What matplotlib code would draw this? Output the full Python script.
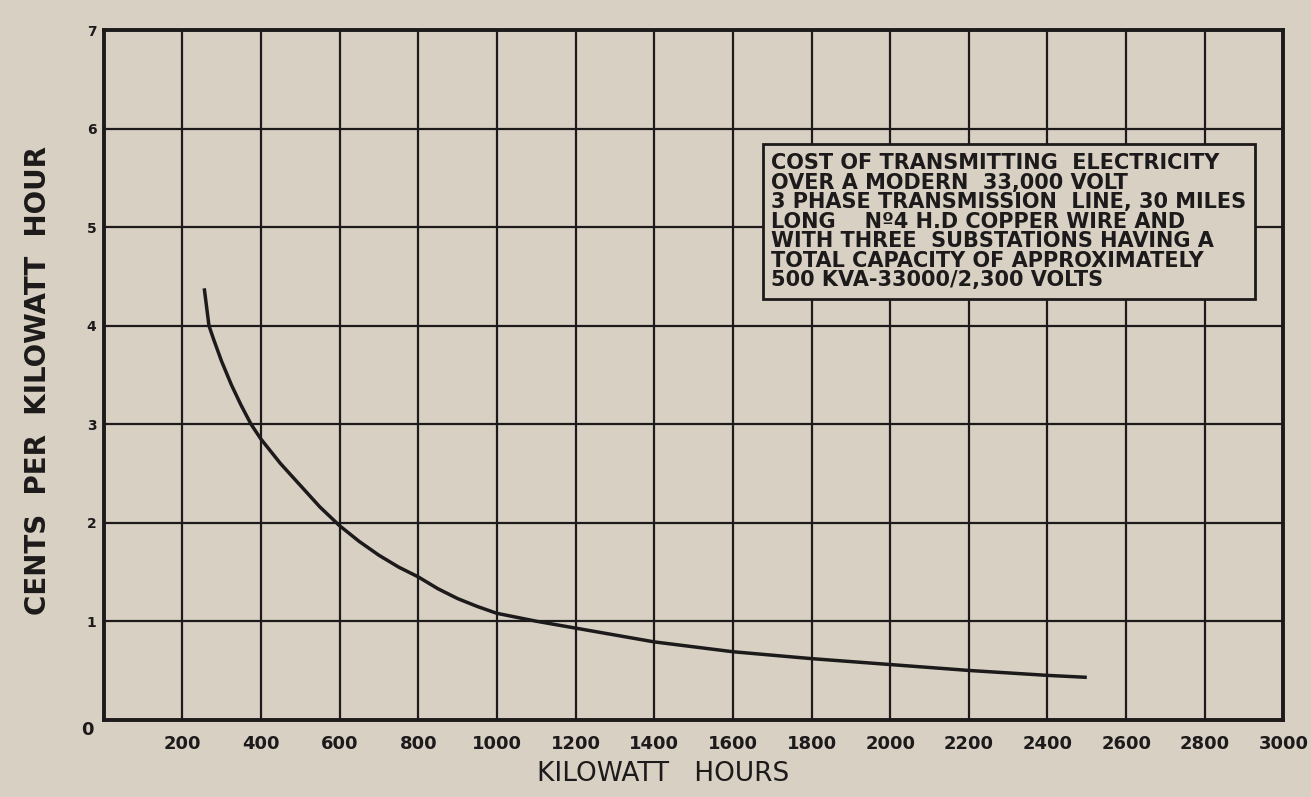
import numpy as np
import matplotlib.pyplot as plt

# values
kwh = [256, 268, 280, 300, 325, 350, 375, 400, 450, 500, 550, 600, 650, 700,
       750, 800, 850, 900, 950, 1000, 1050, 1100, 1200, 1300, 1400, 1500,
       1600, 1800, 2000, 2200, 2400, 2500]
cents = [4.38, 4.0, 3.86, 3.64, 3.40, 3.19, 3.0, 2.85, 2.60, 2.38, 2.16, 1.97,
         1.81, 1.67, 1.55, 1.45, 1.33, 1.23, 1.15, 1.08, 1.04, 1.0, 0.93,
         0.86, 0.79, 0.74, 0.69, 0.62, 0.56, 0.50, 0.45, 0.43]

x_ticks = list(range(200, 3001, 200))
y_ticks = [1, 2, 3, 4, 5, 6, 7]

note = ("COST OF TRANSMITTING  ELECTRICITY\n"
        "OVER A MODERN  33,000 VOLT\n"
        "3 PHASE TRANSMISSION  LINE, 30 MILES\n"
        "LONG    N\u00ba4 H.D COPPER WIRE AND\n"
        "WITH THREE  SUBSTATIONS HAVING A\n"
        "TOTAL CAPACITY OF APPROXIMATELY\n"
        "500 KVA-33000/2,300 VOLTS")

bg = '#d9d0c4'
ink = '#1c1a1a'

fig = plt.figure(figsize=(13.11, 7.97), dpi=100, facecolor=bg)
ax = fig.add_axes([0.079, 0.097, 0.900, 0.865])
ax.set_facecolor(bg)

ax.plot(kwh, cents, color=ink, lw=2.5, solid_capstyle='butt',
        solid_joinstyle='round', zorder=3)

ax.set_xlim(0, 3000)
ax.set_ylim(0, 7)
ax.set_xticks(x_ticks)
ax.set_yticks(y_ticks)
ax.set_xticklabels([str(v) for v in x_ticks], fontsize=13, fontweight='bold', color=ink)
ax.set_yticklabels([str(v) for v in y_ticks], fontsize=10, fontweight='bold', color=ink)
ax.tick_params(axis='x', length=0, pad=11)
ax.tick_params(axis='y', length=0, pad=5)
ax.grid(True, color=ink, lw=1.6)
for s in ax.spines.values():
    s.set_linewidth(2.8)
    s.set_color(ink)

# shared zero at the corner
ax.text(-0.0135, -0.015, '0', transform=ax.transAxes, ha='center', va='center',
        fontsize=13, fontweight='bold', color=ink)

ax.set_xlabel('KILOWATT   HOURS', fontsize=19, color=ink)
ax.xaxis.set_label_coords(0.474, -0.060)
fig.text(0.029, 0.523, 'CENTS  PER  KILOWATT  HOUR', rotation=90, ha='center',
         va='center', fontsize=20, fontweight='bold', color=ink)

ax.text(0.566, 0.822, note, transform=ax.transAxes, ha='left', va='top',
        fontsize=15, fontweight='bold', color=ink, linespacing=0.97, zorder=5,
        bbox=dict(boxstyle='square,pad=0.42', facecolor=bg, edgecolor=ink, lw=2.0))

fig.savefig('out.png', dpi=100, facecolor=bg)
